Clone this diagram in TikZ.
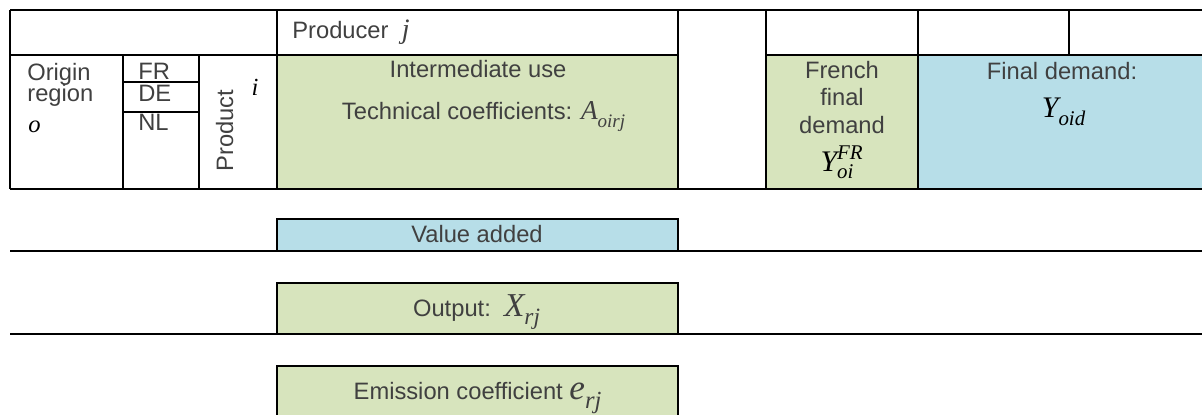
\documentclass[tikz,border=0pt]{standalone}
\usepackage{amsmath}
\usepackage{fontspec}
\setmainfont{Liberation Sans}
\newfontfamily\tms{Liberation Serif}
\usetikzlibrary{positioning}
\definecolor{iogreen}{RGB}{215,228,189}
\definecolor{ioblue}{RGB}{183,222,232}
\definecolor{iotext}{RGB}{64,64,64}
\newcommand{\tv}[1]{\text{\tms\itshape #1}}
\newcommand{\lsub}[1]{_{\raisebox{-2.5pt}{$\scriptstyle\tv{#1}$}}}
\newcommand{\msz}[1]{\fontsize{#1}{#1}\selectfont}
\tikzset{
  gridline/.style={line width=1.1pt},
  ctext/.style={text=iotext, font=\fontsize{13.5}{15.4}\selectfont, inner sep=0pt, align=center},
  mvar/.style={inner sep=0pt, font=\msz{14}},
  subbox/.style={draw, line width=1.1pt}
}

\begin{document}
\begin{tikzpicture}[x=0.02cm, y=-0.02cm]
    \useasboundingbox (0,0) rectangle (1202,414);
    % Fondos
    \fill[iogreen] (277,55) rectangle (678,189);
    \fill[iogreen] (766,55) rectangle (918,189);
    \fill[ioblue]  (918,55) rectangle (1202,189);
    % Tabla
    \draw[gridline] (10,10) -- (1202,10);
    \draw[gridline] (10,55) -- (678,55) (766,55) -- (1202,55);
    \draw[gridline] (10,189) -- (1202,189);
    \draw[gridline] (10,10) -- (10,189);
    \draw[gridline] (123,55) -- (123,189) (199,55) -- (199,189);
    \draw[gridline] (123,82) -- (199,82) (123,112) -- (199,112);
    \foreach \xc in {277,678,766,918}
      \draw[gridline] (\xc,10) -- (\xc,189);
    \draw[gridline] (1069,10) -- (1069,55);
    % Filas de abajo
    \draw[subbox, fill=ioblue]  (277,219) rectangle (678,251);
    \draw[subbox, fill=iogreen] (277,283) rectangle (678,334);
    \draw[subbox, fill=iogreen] (277,366) rectangle (678,430);
    \draw[gridline] (10,251) -- (1202,251);
    \draw[gridline] (10,334) -- (1202,334);
    % Textos
    \node[ctext, anchor=base west] (prod) at (292,38) {Producer\ \ {\msz{16}$\tv{j}$}};
    \node[ctext, anchor=base west] (orig) at (27,80) {Origin};
    \node[ctext, anchor=base west] (reg)  at (27,101) {region};
    \node[mvar, anchor=base west]  (oreg) at (28,132) {$\tv{o}$};
    \node[ctext, anchor=base west] (fr) at (138,79) {FR};
    \node[ctext, anchor=base west] (de) at (138,101) {DE};
    \node[ctext, anchor=base west] (nl) at (138,130) {NL};
    \node[ctext, anchor=base west, rotate=90] (product) at (233,172) {Product};
    \node[mvar, anchor=base] (ivar) at (255,95) {$\tv{i}$};
    \node[ctext, anchor=base] (inter) at (478,77) {Intermediate use};
    \node[ctext, anchor=base] (tech)  at (484,119) {Technical coefficients: {\msz{15.5}$\tv{A}\lsub{oirj}$}};
    \node[ctext, anchor=base] (frfd) at (842,133) {French\\final\\demand};
    \node[inner sep=0pt, anchor=base, font=\msz{17}] (yfr) at (842,171) {$\tv{Y}^{\tv{FR}}_{\tv{oi}}$};
    \node[ctext, anchor=base] (fd)   at (1062,79) {Final demand:};
    \node[inner sep=0pt, anchor=base, font=\msz{17}] (yoid) at (1064,117) {$\tv{Y}\lsub{oid}$};
    \node[ctext, anchor=base] (va)  at (477,242) {Value added};
    \node[ctext, anchor=base] (out) at (477,316) {Output:\ \ {\msz{19}$\tv{X}\lsub{rj}$}};
    \node[ctext, anchor=base] (emi) at (478,399) {Emission coefficient {\msz{20}$\tv{e}\lsub{rj}$}};
\end{tikzpicture}
\end{document}
